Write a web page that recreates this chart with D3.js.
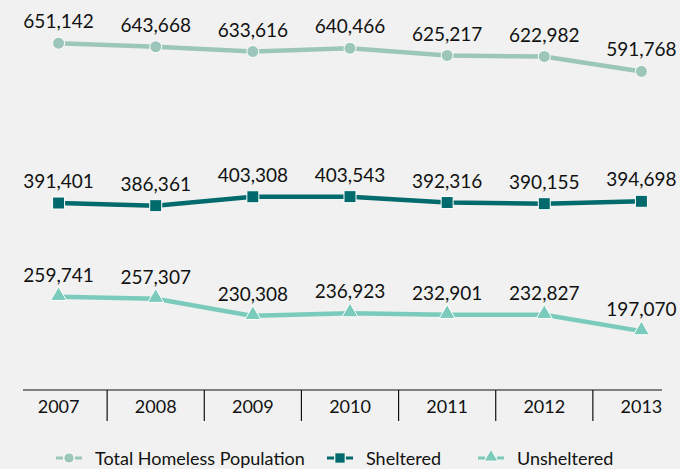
<!DOCTYPE html>
<html>
<head>
<meta charset="utf-8">
<script src="https://cdn.jsdelivr.net/npm/d3@7"></script>
<style>
  body { margin: 0; background: #f0f1f0; }
  svg { display: block; font-family: Lato, "Open Sans", sans-serif; }
</style>
</head>
<body>
<svg id="chart"></svg>
<script>
const width = 680;
const height = 469;

const years = ['2007', '2008', '2009', '2010', '2011', '2012', '2013'];
const total = [651142, 643668, 633616, 640466, 625217, 622982, 591768];
const sheltered = [391401, 386361, 403308, 403543, 392316, 390155, 394698];
const unsheltered = [259741, 257307, 230308, 236923, 232901, 232827, 197070];

const series = [
  { name: 'Total Homeless Population', values: total, color: '#9dc6ba', shape: 'circle' },
  { name: 'Sheltered', values: sheltered, color: '#006a6c', shape: 'square' },
  { name: 'Unsheltered', values: unsheltered, color: '#7acbbb', shape: 'triangle' }
];

const svg = d3.select('#chart')
  .attr('width', width)
  .attr('height', height);

const x = d3.scaleBand().domain(years).range([10, 690]);

// the original spaces the three groups apart, so the scale bends between them
const y = d3.scaleLinear()
  .domain([180000, 230000, 240000, 270000, 380000, 420000, 580000, 660000])
  .range([339, 316, 312, 289, 209, 188, 77, 39]);

const baseline = 390;

// axis
const xAxis = svg.append('g')
  .attr('transform', `translate(0, ${baseline})`)
  .call(d3.axisBottom(x).tickSize(0).tickPadding(10));
xAxis.select('.domain').remove();
xAxis.selectAll('text')
  .attr('font-size', 18)
  .attr('font-family', 'Lato, "Open Sans", sans-serif')
  .attr('fill', '#111');

svg.append('line')
  .attr('x1', 23).attr('x2', 662)
  .attr('y1', baseline).attr('y2', baseline)
  .attr('stroke', '#111').attr('stroke-width', 1.2);

svg.selectAll('.sep')
  .data(years.slice(1))
  .enter().append('line')
  .attr('class', 'sep')
  .attr('x1', d => x(d)).attr('x2', d => x(d))
  .attr('y1', baseline).attr('y2', baseline + 31)
  .attr('stroke', '#111').attr('stroke-width', 1.2);

function drawMarker(g, shape, color) {
  if (shape === 'circle') {
    g.append('circle').attr('r', 6).attr('fill', color).attr('stroke', '#fff').attr('stroke-width', 1);
  } else if (shape === 'square') {
    g.append('rect').attr('x', -6).attr('y', -6).attr('width', 12).attr('height', 12)
      .attr('fill', color).attr('stroke', '#fff').attr('stroke-width', 1);
  } else {
    g.append('path').attr('d', d3.symbol(d3.symbolTriangle, 110)())
      .attr('transform', 'translate(0,-1)')
      .attr('fill', color).attr('stroke', '#fff').attr('stroke-width', 1);
  }
}

const line = d3.line()
  .x((d, i) => x(years[i]) + x.bandwidth() / 2)
  .y(d => y(d));

series.forEach(s => {
  const g = svg.append('g');
  g.append('path')
    .datum(s.values)
    .attr('fill', 'none')
    .attr('stroke', s.color)
    .attr('stroke-width', 4.5)
    .attr('d', line);

  s.values.forEach((v, i) => {
    const m = g.append('g')
      .attr('transform', `translate(${x(years[i]) + x.bandwidth() / 2}, ${y(v)})`);
    drawMarker(m, s.shape, s.color);
    m.append('text')
      .attr('y', -15)
      .attr('text-anchor', 'middle')
      .attr('font-size', 19)
      .attr('fill', '#111')
      .text(d3.format(',')(v));
  });
});

// legend
const legendPos = [69, 340, 491];
series.forEach((s, i) => {
  const g = svg.append('g').attr('transform', `translate(${legendPos[i]}, 458)`);
  g.append('line').attr('x1', -13).attr('x2', -6).attr('stroke', s.color).attr('stroke-width', 3);
  g.append('line').attr('x1', 6).attr('x2', 13).attr('stroke', s.color).attr('stroke-width', 3);
  const m = g.append('g').attr('transform', 'scale(0.85)');
  drawMarker(m, s.shape, s.color);
  g.append('text')
    .attr('x', 26)
    .attr('y', 6.5)
    .attr('font-size', 18)
    .attr('fill', '#111')
    .text(s.name);
});
</script>
</body>
</html>
